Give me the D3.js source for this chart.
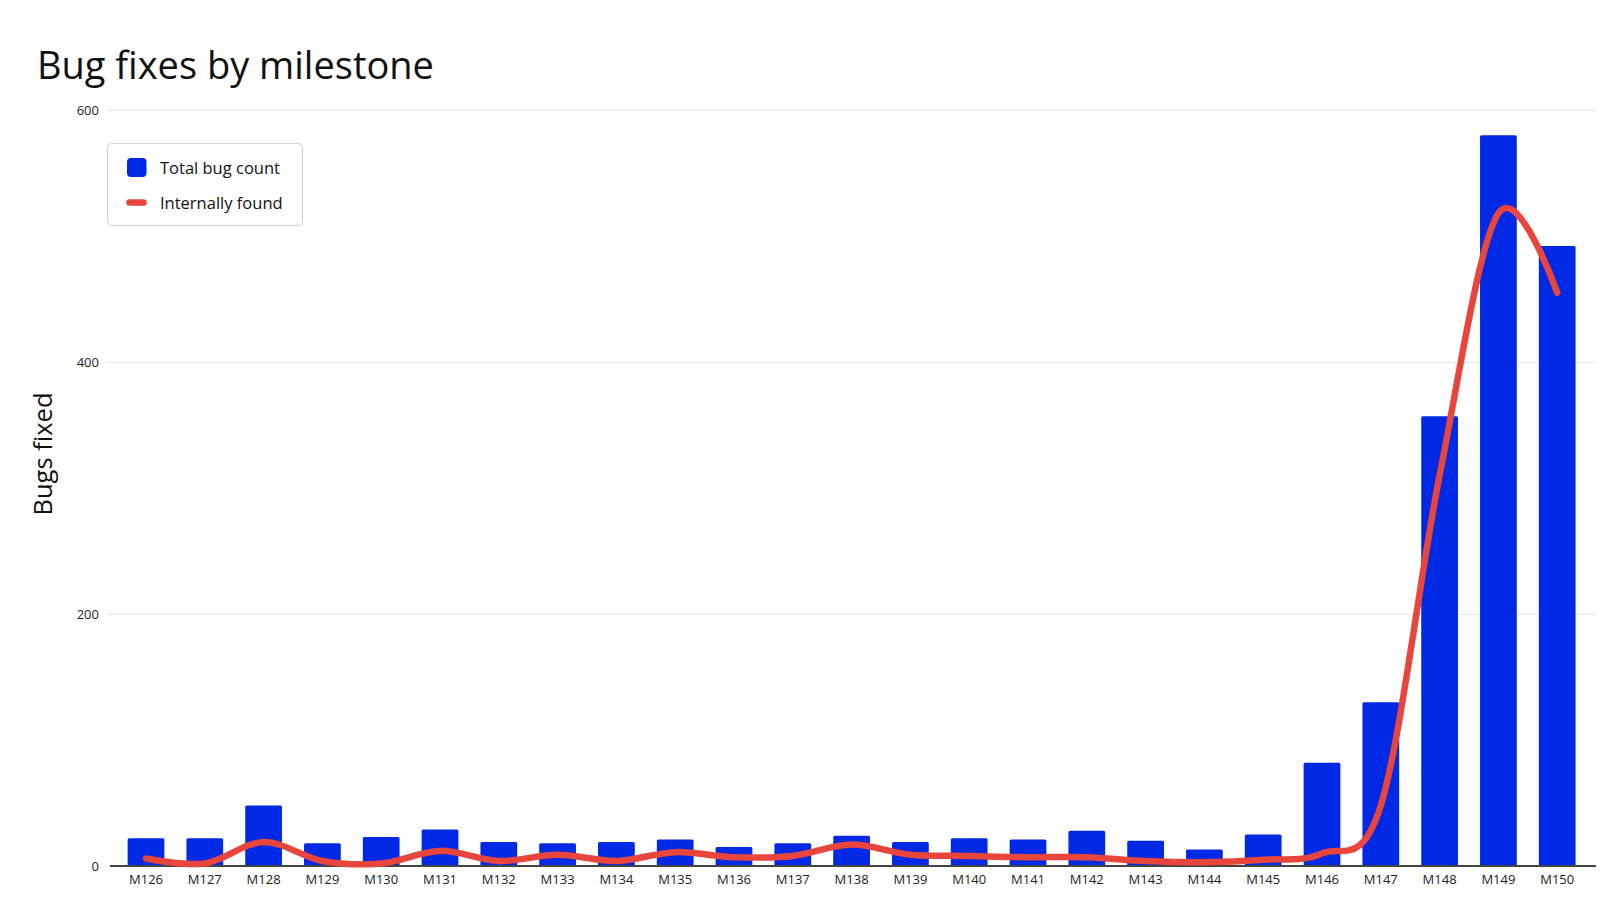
<!DOCTYPE html>
<html>
<head>
<meta charset="utf-8">
<script src="https://cdn.jsdelivr.net/npm/d3@7/dist/d3.min.js"></script>
<style>
  html, body { margin: 0; padding: 0; background: #fff; }
  svg { display: block; }
  text { font-family: "Open Sans", "Noto Sans", sans-serif; }
</style>
</head>
<body>
<div id="chart"></div>
<script>
// milestones along the x axis
var MILESTONES = ["M126", "M127", "M128", "M129", "M130", "M131", "M132", "M133", "M134",
                  "M135", "M136", "M137", "M138", "M139", "M140", "M141", "M142", "M143",
                  "M144", "M145", "M146", "M147", "M148", "M149", "M150"];

// bars: total bug count
var TOTAL_BUGS = [22, 22, 48, 18, 23, 29, 19, 18, 19, 21, 15, 18, 24, 19, 22, 21, 28, 20,
                  13, 25, 82, 130, 357, 580, 492];

// line: internally found
var INTERNAL_BUGS = [6, 2, 19, 4, 2, 12, 4, 9, 4, 11, 7, 8, 17, 9, 8, 7, 7, 4,
                     3, 5, 10, 48, 310, 518, 455];

var Y_TICKS = [0, 200, 400, 600];

var WIDTH = 1600, HEIGHT = 900;
var BLUE = "#0029e5", RED = "#e8453c";
var AXIS_FONT = "'Liberation Sans', Arial, sans-serif";

function createChart(id) {

    var svg = d3.select(id).append("svg")
        .attr("width", WIDTH)
        .attr("height", HEIGHT);

    var x = d3.scaleBand()
        .domain(MILESTONES)
        .range([116.6, 1586.6])
        .paddingInner(0.375)
        .paddingOuter(0.1875);

    var y = d3.scaleLinear()
        .domain([0, 600])
        .range([866, 110]);

    // gridlines + y labels
    var yAxis = d3.axisLeft(y)
        .tickValues(Y_TICKS)
        .tickSize(-(1596 - 107))
        .tickPadding(8);

    var gy = svg.append("g")
        .attr("transform", "translate(107,0)")
        .call(yAxis);
    gy.select(".domain").remove();
    gy.selectAll(".tick line").attr("stroke", "#e6e6e6").attr("stroke-width", 1);
    gy.selectAll(".tick text")
        .attr("fill", "#222")
        .attr("font-size", 13)
        .attr("font-family", AXIS_FONT);

    // bars
    svg.append("g").selectAll("rect")
        .data(TOTAL_BUGS)
        .enter().append("rect")
        .attr("x", function(d, i) { return x(MILESTONES[i]); })
        .attr("y", function(d) { return y(d); })
        .attr("width", x.bandwidth())
        .attr("height", function(d) { return y(0) - y(d); })
        .attr("rx", 1.5)
        .attr("fill", BLUE);

    // x axis baseline + labels
    var xAxis = d3.axisBottom(x).tickSize(0).tickPadding(9);
    var gx = svg.append("g")
        .attr("transform", "translate(0," + y(0) + ")")
        .call(xAxis);
    gx.select(".domain").remove();
    gx.selectAll(".tick text")
        .attr("fill", "#222")
        .attr("font-size", 13)
        .attr("font-family", AXIS_FONT);

    svg.append("line")
        .attr("x1", 110).attr("x2", 1596)
        .attr("y1", y(0)).attr("y2", y(0))
        .attr("stroke", "#444")
        .attr("stroke-width", 2);

    // smoothed line (uniform catmull-rom, rounder like the original)
    var line = d3.line()
        .x(function(d, i) { return x(MILESTONES[i]) + x.bandwidth() / 2; })
        .y(function(d) { return y(d); })
        .curve(d3.curveCardinal.tension(0));

    svg.append("path")
        .datum(INTERNAL_BUGS)
        .attr("d", line)
        .attr("fill", "none")
        .attr("stroke", RED)
        .attr("stroke-width", 6.5)
        .attr("stroke-linecap", "round")
        .attr("stroke-linejoin", "round");

    // title
    var title = svg.append("text")
        .attr("x", 37)
        .attr("y", 79)
        .attr("font-size", 40)
        .attr("fill", "#111")
        .text("Bug fixes by milestone");
    var tw = title.node().getComputedTextLength();
    title.attr("font-size", 40 * 397 / tw);

    // y axis title
    svg.append("text")
        .attr("transform", "translate(52,454) rotate(-90)")
        .attr("text-anchor", "middle")
        .attr("font-size", 25.5)
        .attr("fill", "#111")
        .text("Bugs fixed");

    // legend
    var legend = svg.append("g");
    legend.append("rect")
        .attr("x", 107.5).attr("y", 143.5)
        .attr("width", 195).attr("height", 82)
        .attr("rx", 4)
        .attr("fill", "#fff")
        .attr("stroke", "#d0d0d0");
    legend.append("rect")
        .attr("x", 127).attr("y", 158)
        .attr("width", 19.5).attr("height", 19)
        .attr("rx", 4)
        .attr("fill", BLUE);
    legend.append("line")
        .attr("x1", 129.5).attr("x2", 143.5)
        .attr("y1", 202.5).attr("y2", 202.5)
        .attr("stroke", RED)
        .attr("stroke-width", 6.5)
        .attr("stroke-linecap", "round");
    legend.append("text")
        .attr("x", 160).attr("y", 173.5)
        .attr("font-size", 16.5)
        .attr("fill", "#111")
        .text("Total bug count");
    legend.append("text")
        .attr("x", 160).attr("y", 208.5)
        .attr("font-size", 16.5)
        .attr("fill", "#111")
        .text("Internally found");
}

createChart("#chart");
</script>
</body>
</html>
